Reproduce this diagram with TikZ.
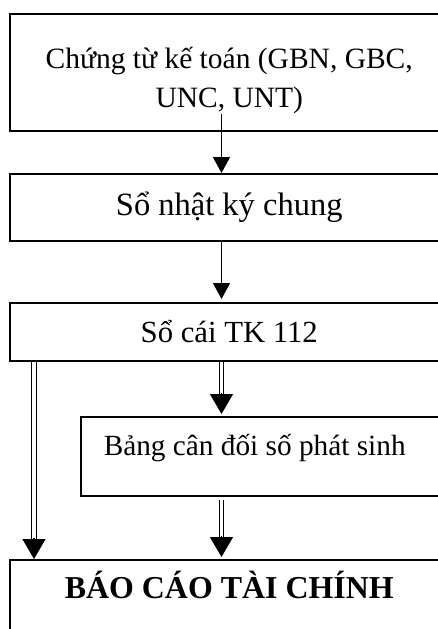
\documentclass[tikz,border=0pt]{standalone}
\usepackage{fontspec}
\setmainfont{Liberation Serif}
\usetikzlibrary{arrows.meta}
\tikzset{
	box/.style = {rectangle, draw=black, line width=1.5pt, anchor=north west, inner sep=0pt, execute at begin node={\spaceskip=.25em\xspaceskip=.25em}},
	widebox/.style = {box, text width=439pt, align=center},
	flow/.style = {line width=1.2pt, -{Triangle[length=16pt, width=17pt]}},
	dflow/.style = {double, double distance=3.5pt, line width=1.2pt, shorten >=19pt},
	dtip/.style = {line width=1.2pt, -{Triangle[length=20pt, width=23pt]}}
}

\begin{document}
\begin{tikzpicture}[x=1pt, y=1pt]
		\useasboundingbox (0,0) rectangle (438,-629);
		\clip (0,0) rectangle (438,-629);
		\coordinate (mid) at (221.5,0);
		\coordinate (left) at (34,0);
		\coordinate (src) at (221.5,-114);
		\node [widebox, minimum height=117pt, text height=55pt, text depth=62pt, font=\fontsize{29.5}{39}\selectfont] (chungtu) at (9,-13) {Chứng từ kế toán (GBN, GBC,\\UNC, UNT)};
		\node [widebox, minimum height=67pt, text height=42pt, text depth=25pt, font=\fontsize{32.5}{40}\selectfont] (nhatky) at (9,-173) {Sổ nhật ký chung};
		\node [widebox, minimum height=58pt, text height=40pt, text depth=18pt, font=\fontsize{30.7}{40}\selectfont] (socai) at (9,-302) {Sổ cái TK 112};
		\node [box, text width=330pt, align=left, inner xsep=23pt, minimum height=79pt, text height=39pt, text depth=40pt, font=\fontsize{29.3}{40}\selectfont] (bangcd) at (80,-416) {Bảng cân đối số phát sinh};
		\node [widebox, minimum height=90pt, text height=39pt, text depth=51pt, font=\fontsize{31.9}{40}\selectfont\bfseries] (baocao) at (9,-559) {BÁO CÁO TÀI CHÍNH};
		\draw [flow] (src) -- (nhatky.north -| mid);
		\draw [flow, shorten >=3pt] (nhatky.south -| mid) -- (socai.north -| mid);
		\draw [dflow] (socai.south -| left) -- (baocao.north -| left);
		\draw [dtip] ([yshift=21pt]baocao.north -| left) -- (baocao.north -| left);
		\draw [dflow, shorten >=21pt] (socai.south -| mid) -- (bangcd.north -| mid);
		\draw [dtip, shorten >=2pt] ([yshift=23pt]bangcd.north -| mid) -- (bangcd.north -| mid);
		\draw [dflow, shorten <=3pt, shorten >=21pt] (bangcd.south -| mid) -- (baocao.north -| mid);
		\draw [dtip, shorten >=2pt] ([yshift=23pt]baocao.north -| mid) -- (baocao.north -| mid);
\end{tikzpicture}
\end{document}
